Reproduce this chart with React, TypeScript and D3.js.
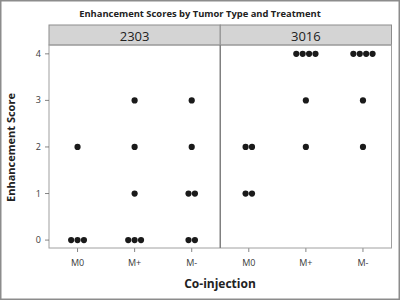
import React from "react";
import * as d3 from "d3";

const panels = ["2303", "3016"];
const categories = ["M0", "M+", "M-"];
const yTicks = [0, 1, 2, 3, 4];
// scores per panel per category
const scores2303: number[][] = [
  [0, 0, 0, 2],
  [0, 0, 0, 1, 2, 3],
  [0, 0, 1, 1, 2, 3],
];
const scores3016: number[][] = [
  [1, 1, 2, 2],
  [2, 3, 4, 4, 4, 4],
  [2, 3, 4, 4, 4, 4],
];
const panelScores = [scores2303, scores3016];

const W = 400, H = 300;
const left = 49, right = 391.5, top = 45, bottom = 248, stripTop = 25;
const font = "'Open Sans', 'Noto Sans', sans-serif";

export default function App() {
  const panelX = d3.scaleBand<string>().domain(panels).range([left, right]);
  const y = d3.scaleLinear().domain([-0.17, 4.19]).range([bottom, top]);
  const r = 3.1, dx = 6.4;

  return (
    <svg width={W} height={H} style={{ position: "absolute", left: 0, top: 0, background: "#fff" }}>
      <rect x={0.75} y={0.75} width={W - 1.5} height={H - 1.5} fill="#fff" stroke="#8c8c8c" strokeWidth={1.5} />
      <text x={200} y={17} textAnchor="middle" fontFamily={font} fontSize={9.4} fontWeight="bold" fill="#222">
        Enhancement Scores by Tumor Type and Treatment
      </text>
      {panels.map((p, pi) => {
        const x0 = panelX(p)!;
        const bw = panelX.bandwidth();
        const x = d3.scalePoint<string>().domain(categories).range([x0, x0 + bw]).padding(0.5);
        return (
          <g key={p}>
            <rect x={x0} y={stripTop} width={bw} height={top - stripTop} fill="#d4d4d4" stroke="#8c8c8c" strokeWidth={1} />
            <text x={x0 + bw / 2} y={41} textAnchor="middle" fontFamily={font} fontSize={13} fill="#222">
              {p}
            </text>
            {categories.map((c, ci) => {
              const vals = panelScores[pi][ci];
              const groups = d3.group(vals, (v) => v);
              const cx = x(c)!;
              return (
                <g key={c}>
                  <line x1={cx} x2={cx} y1={bottom} y2={bottom + 4} stroke="#666" strokeWidth={0.8} />
                  <text x={cx} y={266} textAnchor="middle" fontFamily={font} fontSize={9} fill="#3a3a3a">
                    {c}
                  </text>
                  {Array.from(groups.entries()).map(([v, arr]) =>
                    arr.map((_, k) => (
                      <circle
                        key={`${v}-${k}`}
                        cx={cx + (k - (arr.length - 1) / 2) * dx}
                        cy={y(v)}
                        r={r}
                        fill="#1a1a1a"
                      />
                    ))
                  )}
                </g>
              );
            })}
          </g>
        );
      })}
      <rect x={left} y={top} width={right - left} height={bottom - top} fill="none" stroke="#a0a0a0" strokeWidth={1} />
      <line x1={panelX("3016")!} x2={panelX("3016")!} y1={top} y2={bottom} stroke="#808080" strokeWidth={1.5} />
      {yTicks.map((t) => (
        <g key={t}>
          <line x1={left - 4} x2={left} y1={y(t)} y2={y(t)} stroke="#666" strokeWidth={0.8} />
          <text x={left - 8} y={y(t) + 3} textAnchor="end" fontFamily={font} fontSize={9} fill="#3a3a3a">
            {t}
          </text>
        </g>
      ))}
      <text
        transform={`translate(15,${(top + bottom) / 2 + 1}) rotate(-90)`}
        textAnchor="middle"
        fontFamily={font}
        fontSize={11}
        fontWeight="bold"
        fill="#222"
      >
        Enhancement Score
      </text>
      <text x={220} y={288} textAnchor="middle" fontFamily={font} fontSize={12} fontWeight="bold" fill="#222">
        Co-injection
      </text>
    </svg>
  );
}
